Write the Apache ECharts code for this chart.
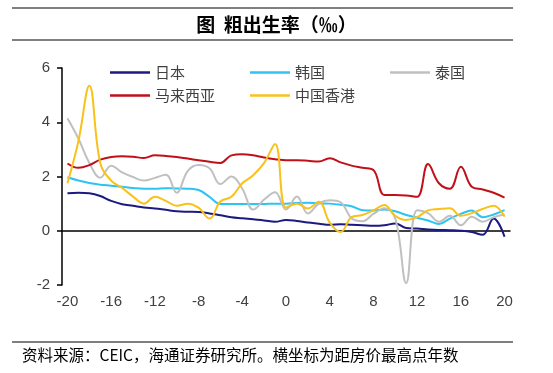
<!DOCTYPE html>
<html><head><meta charset="utf-8">
<script src="https://cdn.jsdelivr.net/npm/echarts@6/dist/echarts.min.js"></script>
<style>html,body{margin:0;padding:0;background:#fff}#c{width:553px;height:373px}</style>
</head><body><div id="c"></div>
<script>
const years = ['-20','-19','-18','-17','-16','-15','-14','-13','-12','-11','-10','-9','-8','-7','-6','-5','-4','-3','-2','-1','0','1','2','3','4','5','6','7','8','9','10','11','12','13','14','15','16','17','18','19','20'];
const japan = [1.38,1.40,1.38,1.28,1.10,0.98,0.92,0.86,0.82,0.77,0.72,0.70,0.69,0.64,0.57,0.50,0.46,0.42,0.38,0.33,0.40,0.36,0.30,0.26,0.22,0.24,0.22,0.20,0.18,0.20,0.27,0.10,0.08,0.05,0.03,0.02,0.00,-0.05,-0.15,0.45,-0.22];
const korea = [1.97,1.85,1.76,1.70,1.66,1.62,1.58,1.55,1.55,1.57,1.56,1.55,1.50,1.25,0.99,0.99,0.99,0.99,0.99,1.00,1.00,1.02,1.03,1.01,1.00,0.96,0.90,0.76,0.75,0.78,0.72,0.58,0.48,0.38,0.25,0.45,0.62,0.75,0.50,0.60,0.76];
const thailand = [4.15,3.40,2.50,1.95,2.40,2.15,1.98,1.85,1.95,2.06,1.40,2.20,2.42,2.30,1.72,2.00,1.55,0.78,1.15,1.42,0.78,1.26,0.64,1.00,1.12,1.05,0.46,0.35,0.62,0.83,0.45,-1.93,0.76,0.65,0.33,0.55,0.20,0.52,0.33,0.50,0.60];
const malaysia = [2.48,2.32,2.42,2.62,2.72,2.75,2.73,2.68,2.78,2.76,2.72,2.66,2.60,2.54,2.50,2.78,2.82,2.78,2.70,2.64,2.60,2.60,2.58,2.55,2.67,2.52,2.40,2.32,2.24,1.32,1.32,1.30,1.25,2.46,1.75,1.55,2.36,1.62,1.52,1.40,1.22];
const hongkong = [1.75,3.30,5.35,2.50,1.85,1.58,1.26,1.00,1.25,1.10,0.92,1.00,0.85,0.45,1.08,1.25,1.75,2.05,2.50,3.20,0.85,1.00,0.82,1.07,0.30,-0.05,0.50,0.58,0.75,0.95,0.55,0.40,0.50,0.75,0.80,0.83,0.55,0.65,0.80,0.92,0.52];
const seriesNames = ['日本','韩国','泰国','马来西亚','中国香港'];
const seriesData = [japan, korea, thailand, malaysia, hongkong];
const colors = ['#1a1a80','#2cc4f2','#c0c0c0','#c0101a','#f9c21a'];
const titleText = '图  粗出生率（‰）';
const sourceText = '资料来源：CEIC，海通证券研究所。横坐标为距房价最高点年数';

const cjk = '"Noto Sans CJK SC", "Liberation Sans", sans-serif';
const legendPos = [[110,65],[250,65],[390,65],[110,88],[250,88]];

const chart = echarts.init(document.getElementById('c'), null, {renderer:'canvas'});
chart.setOption({
  animation: false,
  backgroundColor: '#fff',
  title: {
    text: titleText, left: 'center', top: 10,
    textStyle: {fontFamily: cjk, fontSize: 19, fontWeight: 'bold', color: '#000'}
  },
  graphic: [
    {type:'line', shape:{x1:12,y1:8,x2:513,y2:8}, style:{stroke:'#000',lineWidth:1.2}},
    {type:'line', shape:{x1:12,y1:40,x2:513,y2:40}, style:{stroke:'#000',lineWidth:1.2}},
    {type:'line', shape:{x1:12,y1:342,x2:513,y2:342}, style:{stroke:'#000',lineWidth:1.2}},
    {type:'text', left:22, top:347, style:{text:sourceText, font:'15.5px "Noto Sans CJK SC", sans-serif', fill:'#000'}}
  ],
  legend: seriesNames.map((n,i)=>({
    data:[n], left: legendPos[i][0], top: legendPos[i][1], padding:0,
    icon:'rect', itemWidth:40, itemHeight:2.5, itemGap:0,
    textStyle:{fontFamily:cjk, fontSize:15, color:'#404040', padding:[0,0,0,0]}
  })),
  grid: {left:62, right:43, top:68, bottom:88},
  xAxis: [
    {type:'category', data:years, boundaryGap:true,
     axisLine:{onZero:true, lineStyle:{color:'#000', width:1.5}},
     axisTick:{interval:3, length:5, lineStyle:{color:'#000', width:1.5}},
     axisLabel:{show:false}, splitLine:{show:false}},
    {type:'category', data:years, boundaryGap:true, position:'bottom',
     axisLine:{show:false, onZero:false}, axisTick:{show:false},
     axisLabel:{interval:3, margin:9, fontFamily:'"Liberation Sans", Arial, sans-serif', fontSize:15, color:'#404040'},
     splitLine:{show:false}}
  ],
  yAxis: {
    type:'value', min:-2, max:6, interval:2,
    axisLine:{show:true, lineStyle:{color:'#000', width:1.5}},
    axisTick:{show:true, length:5, lineStyle:{color:'#000', width:1.5}},
    axisLabel:{margin:12, fontFamily:'"Liberation Sans", Arial, sans-serif', fontSize:15, color:'#404040'},
    splitLine:{show:false}
  },
  series: seriesNames.map((n,i)=>({
    name:n, type:'line', xAxisIndex:0, data:seriesData[i], smooth:0.4,
    showSymbol:false, symbol:'none', color:colors[i],
    lineStyle:{width:2, color:colors[i]}
  }))
});
</script></body></html>
